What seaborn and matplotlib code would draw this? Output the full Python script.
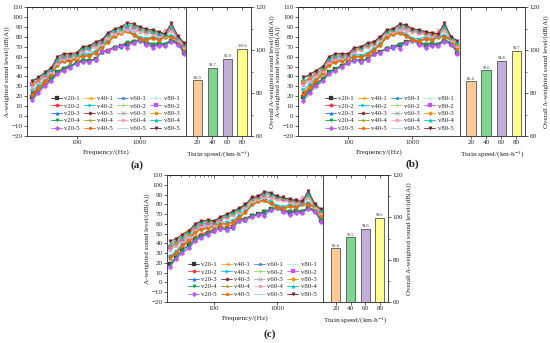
import numpy as np
import pandas as pd
import matplotlib
matplotlib.use("Agg")
import matplotlib.pyplot as plt
from matplotlib.ticker import ScalarFormatter, NullFormatter, FixedLocator
import seaborn as sns

# 1/3-octave band centre frequencies (Hz)
bands = [20, 25, 31.5, 40, 50, 63, 80, 100, 125, 160, 200, 250, 315, 400,
         500, 630, 800, 1000, 1250, 1600, 2000, 2500, 3150, 4000, 5000]

series_names = ['v20-1', 'v20-2', 'v20-3', 'v20-4', 'v20-5',
                'v40-1', 'v40-2', 'v40-3', 'v40-4', 'v40-5',
                'v60-1', 'v60-2', 'v60-3', 'v60-4', 'v60-5',
                'v80-1', 'v80-2', 'v80-3', 'v80-4', 'v80-5']

# ---- panel (a) ----
a_v20 = [[19, 26, 33, 37, 44, 48, 50, 54, 56, 56, 58, 65, 66, 69, 71, 73, 75, 77, 74, 72, 73, 72, 76, 74, 64],
         [20, 27, 33, 38, 45, 48, 51, 54, 57, 56, 58, 65, 67, 70, 71, 74, 75, 77, 74, 72, 73, 73, 77, 74, 65],
         [17, 25, 31, 36, 43, 47, 50, 53, 56, 55, 57, 65, 66, 69, 70, 72, 74, 76, 73, 71, 72, 72, 76, 73, 64],
         [18, 26, 34, 38, 45, 49, 51, 54, 57, 56, 58, 65, 66, 70, 71, 75, 76, 77, 75, 73, 74, 73, 77, 75, 65],
         [16, 23, 30, 35, 42, 46, 49, 53, 55, 55, 57, 66, 66, 69, 71, 69, 74, 77, 72, 69, 71, 71, 75, 72, 63]]
a_v40 = [[24, 29, 36, 43, 53, 57, 57, 59, 62, 62, 65, 71, 76, 82, 84, 86, 83, 79, 78, 80, 78, 80, 81, 78, 69],
         [26, 31, 37, 44, 54, 58, 58, 60, 63, 63, 66, 72, 77, 83, 85, 87, 84, 80, 79, 80, 79, 81, 82, 78, 70],
         [23, 28, 35, 42, 52, 56, 56, 58, 61, 61, 64, 70, 75, 81, 84, 86, 82, 78, 77, 79, 77, 80, 80, 77, 68],
         [22, 27, 34, 41, 51, 55, 55, 57, 60, 60, 63, 69, 74, 80, 83, 85, 81, 77, 76, 78, 76, 79, 79, 76, 67],
         [21, 28, 35, 42, 53, 56, 55, 58, 61, 61, 64, 70, 75, 81, 84, 86, 82, 78, 77, 79, 77, 80, 80, 77, 68]]
a_v60 = [[31, 35, 40, 46, 55, 59, 60, 61, 67, 69, 72, 74, 80, 84, 86, 88, 88, 86, 85, 84, 82, 81, 88, 78, 71],
         [30, 34, 40, 45, 54, 58, 59, 60, 66, 68, 71, 73, 79, 83, 85, 87, 87, 85, 84, 83, 81, 80, 87, 77, 70],
         [32, 36, 41, 46, 55, 59, 60, 61, 67, 68, 71, 74, 80, 84, 86, 88, 87, 86, 84, 83, 82, 81, 88, 78, 71],
         [29, 34, 39, 45, 54, 58, 59, 60, 66, 67, 70, 73, 79, 83, 85, 87, 86, 85, 84, 83, 81, 87, 86, 77, 70],
         [31, 35, 40, 46, 55, 59, 60, 61, 67, 69, 72, 74, 80, 84, 86, 88, 88, 86, 85, 84, 82, 81, 88, 78, 71]]
a_v80 = [[34, 38, 43, 48, 58, 62, 62, 63, 69, 71, 74, 76, 83, 87, 89, 92, 91, 89, 87, 86, 84, 82, 92, 80, 73],
         [32, 36, 41, 47, 56, 60, 61, 62, 68, 69, 73, 75, 82, 86, 88, 90, 90, 88, 86, 85, 83, 82, 89, 79, 72],
         [33, 37, 42, 48, 57, 61, 61, 62, 68, 70, 73, 76, 82, 86, 88, 91, 91, 88, 86, 85, 84, 82, 90, 79, 72],
         [36, 39, 43, 48, 58, 62, 62, 63, 69, 70, 74, 76, 83, 87, 89, 92, 92, 89, 87, 86, 84, 83, 91, 80, 73],
         [35, 39, 44, 49, 60, 63, 63, 64, 70, 71, 75, 77, 84, 88, 90, 94, 93, 90, 88, 87, 85, 83, 94, 81, 74]]

# ---- panel (b) ----
b_v20 = [[19, 26, 33, 37, 44, 48, 51, 54, 57, 56, 58, 63, 65, 68, 70, 72, 75, 77, 74, 72, 73, 72, 76, 73, 64],
         [20, 27, 33, 38, 45, 48, 51, 55, 57, 56, 58, 64, 65, 69, 70, 73, 75, 77, 74, 72, 73, 73, 77, 74, 65],
         [17, 25, 31, 36, 43, 47, 50, 54, 56, 55, 57, 63, 64, 68, 69, 71, 74, 76, 73, 71, 72, 72, 76, 73, 64],
         [18, 26, 33, 37, 44, 48, 51, 55, 57, 56, 58, 63, 65, 69, 70, 73, 75, 77, 75, 73, 74, 73, 77, 74, 65],
         [15, 23, 30, 35, 42, 46, 50, 54, 57, 55, 57, 63, 64, 68, 70, 68, 74, 77, 72, 69, 71, 71, 75, 72, 63]]
b_v40 = [[25, 31, 38, 44, 53, 56, 57, 58, 61, 61, 63, 68, 73, 81, 84, 85, 82, 78, 77, 79, 78, 80, 81, 78, 70],
         [27, 32, 39, 45, 54, 57, 58, 59, 62, 62, 64, 69, 74, 82, 85, 86, 83, 79, 78, 80, 79, 81, 82, 78, 71],
         [23, 29, 36, 43, 52, 55, 56, 58, 60, 60, 62, 67, 72, 80, 83, 84, 81, 77, 76, 78, 77, 80, 80, 77, 69],
         [22, 28, 35, 42, 51, 54, 55, 57, 59, 59, 61, 66, 71, 79, 82, 83, 80, 76, 75, 77, 76, 79, 79, 76, 68],
         [22, 29, 36, 43, 52, 55, 56, 58, 60, 60, 62, 67, 72, 80, 83, 84, 81, 77, 76, 78, 77, 80, 80, 77, 69]]
b_v60 = [[33, 37, 42, 47, 56, 59, 60, 60, 66, 68, 71, 73, 78, 84, 86, 88, 88, 86, 85, 83, 82, 81, 88, 78, 72],
         [32, 36, 41, 46, 55, 58, 59, 60, 65, 67, 70, 72, 77, 83, 85, 87, 87, 85, 84, 82, 81, 80, 87, 77, 71],
         [34, 38, 42, 47, 56, 59, 60, 61, 66, 68, 71, 73, 78, 84, 86, 88, 87, 85, 84, 83, 82, 81, 88, 78, 72],
         [31, 35, 40, 46, 55, 58, 59, 60, 65, 67, 70, 72, 77, 83, 85, 87, 86, 85, 84, 82, 81, 87, 86, 77, 71],
         [33, 37, 42, 47, 56, 59, 60, 60, 66, 68, 71, 73, 78, 84, 86, 88, 88, 86, 85, 83, 82, 81, 88, 78, 72]]
b_v80 = [[37, 41, 45, 49, 59, 62, 62, 62, 68, 70, 73, 75, 80, 86, 88, 92, 91, 88, 86, 85, 84, 82, 92, 80, 74],
         [34, 38, 43, 48, 57, 60, 61, 61, 67, 69, 72, 74, 79, 85, 87, 90, 90, 87, 85, 84, 83, 81, 90, 79, 73],
         [35, 39, 44, 48, 58, 61, 61, 62, 68, 69, 72, 74, 79, 85, 87, 91, 90, 87, 86, 84, 83, 82, 90, 79, 73],
         [38, 42, 46, 50, 59, 62, 62, 63, 69, 70, 73, 75, 80, 86, 88, 92, 91, 88, 87, 85, 84, 83, 91, 80, 75],
         [39, 42, 46, 50, 60, 63, 63, 63, 69, 70, 74, 75, 80, 87, 88, 93, 92, 88, 87, 85, 84, 83, 94, 80, 76]]

# ---- panel (c) ----
c_v20 = [[19, 26, 34, 38, 45, 48, 51, 53, 56, 55, 57, 64, 64, 68, 70, 72, 75, 77, 74, 72, 73, 72, 76, 73, 64],
         [27, 31, 37, 41, 47, 50, 52, 55, 57, 57, 59, 65, 66, 69, 70, 73, 75, 77, 74, 72, 73, 73, 77, 74, 65],
         [17, 25, 31, 36, 43, 47, 50, 53, 55, 54, 56, 63, 64, 68, 69, 71, 74, 76, 73, 71, 72, 72, 76, 73, 63],
         [18, 27, 33, 38, 45, 48, 51, 53, 56, 55, 57, 64, 65, 69, 70, 73, 75, 77, 75, 73, 74, 73, 77, 74, 64],
         [16, 24, 30, 35, 42, 46, 49, 53, 55, 54, 57, 63, 64, 67, 69, 68, 74, 76, 72, 69, 71, 71, 75, 72, 62]]
c_v40 = [[38, 44, 50, 54, 58, 62, 64, 63, 66, 68, 71, 76, 79, 84, 85, 86, 83, 78, 77, 79, 78, 80, 81, 78, 70],
         [27, 32, 40, 46, 54, 57, 58, 59, 62, 62, 64, 69, 74, 82, 85, 86, 83, 79, 78, 80, 79, 81, 82, 78, 71],
         [25, 30, 38, 44, 52, 55, 56, 58, 60, 60, 62, 67, 72, 80, 83, 84, 81, 77, 76, 78, 77, 80, 80, 77, 69],
         [24, 29, 37, 43, 51, 54, 55, 57, 59, 59, 61, 66, 71, 79, 82, 83, 80, 76, 75, 77, 76, 79, 79, 76, 68],
         [25, 30, 38, 44, 52, 55, 56, 58, 60, 60, 62, 67, 72, 80, 83, 84, 81, 77, 76, 78, 77, 80, 80, 77, 69]]
c_v60 = [[35, 39, 44, 48, 56, 59, 60, 60, 65, 67, 70, 73, 78, 84, 86, 88, 88, 86, 85, 83, 82, 81, 88, 78, 72],
         [34, 38, 43, 47, 55, 58, 59, 59, 64, 66, 69, 72, 77, 83, 85, 87, 87, 85, 84, 82, 81, 80, 87, 77, 71],
         [36, 39, 44, 48, 56, 59, 60, 60, 65, 67, 70, 73, 78, 84, 86, 88, 87, 85, 84, 83, 82, 81, 88, 78, 72],
         [33, 37, 42, 47, 55, 58, 59, 59, 64, 66, 69, 72, 77, 83, 85, 87, 86, 85, 84, 82, 81, 87, 86, 77, 71],
         [35, 39, 44, 48, 56, 59, 60, 60, 65, 67, 70, 73, 78, 84, 86, 88, 88, 86, 85, 83, 82, 81, 88, 78, 72]]
c_v80 = [[40, 43, 48, 52, 59, 62, 63, 62, 66, 69, 72, 75, 80, 86, 88, 92, 91, 88, 86, 85, 84, 82, 92, 80, 74],
         [36, 40, 45, 50, 57, 60, 61, 61, 65, 68, 71, 74, 79, 85, 87, 90, 90, 87, 85, 84, 83, 81, 90, 79, 73],
         [37, 41, 46, 50, 58, 61, 62, 61, 66, 68, 71, 74, 79, 85, 87, 91, 90, 87, 86, 84, 83, 82, 90, 79, 73],
         [39, 43, 47, 52, 59, 62, 63, 62, 67, 69, 72, 75, 80, 86, 88, 92, 91, 88, 87, 85, 84, 83, 91, 80, 74],
         [42, 45, 49, 53, 60, 63, 64, 63, 67, 70, 73, 76, 80, 87, 88, 93, 92, 88, 87, 85, 84, 83, 94, 80, 75]]

# overall levels (bar charts)
speed_labels = ['20', '40', '60', '80']
a_overall = [85.9, 91.7, 95.9, 100.6]
b_overall = [85.4, 90.6, 94.8, 99.7]
c_overall = [85.4, 90.5, 94.6, 99.6]

# styles, in the same order as series_names
line_colors = ['#333333', '#ff3333', '#1f6fff', '#00a651', '#c455f5',
               '#ffa31a', '#00c3e3', '#8b2a2a', '#9c9c1c', '#ff6600',
               '#3a8ed6', '#93dd5e', '#a8a8a8', '#ffa0b0', '#9fd2f2',
               '#a6f0dc', '#c455f5', '#e69500', '#00c2c2', '#7a1c1c']
line_markers = ['s', 'o', '^', 'v', 'D',
                '<', '>', 'h', '*', 'p',
                '.', '+', 'x', (6, 2, 0), '_',
                '|', 's', 'o', '^', 'v']
bar_colors = ['#ffc996', '#7fd48f', '#c2aed8', '#ffff8f']

sns.set_style('ticks')
plt.rcParams['font.family'] = ['Liberation Serif', 'DejaVu Serif']
plt.rcParams['mathtext.fontset'] = 'stix'
plt.rcParams['font.size'] = 5
plt.rcParams['axes.linewidth'] = 0.6
for k in ['xtick', 'ytick']:
    plt.rcParams[k + '.major.size'] = 2.0
    plt.rcParams[k + '.minor.size'] = 1.1
    plt.rcParams[k + '.major.width'] = 0.5
    plt.rcParams[k + '.minor.width'] = 0.4
    plt.rcParams[k + '.major.pad'] = 1.2
    plt.rcParams[k + '.labelsize'] = 5

W, H = 550, 343
fig = plt.figure(figsize=(5.5, 3.43), dpi=100)


def px_axes(x0, x1, y0, y1):
    return fig.add_axes([x0 / W, 1 - y1 / H, (x1 - x0) / W, (y1 - y0) / H])


def draw_panel(box, xlim_line, xlim_bar, groups, overall, letter, letter_xy):
    x0, xm, x1, y0, y1 = box
    ax = px_axes(x0, xm, y0, y1)
    bax = px_axes(xm, x1, y0, y1)

    all_series = [s for g in groups for s in g]
    for name, vals, col, mk in zip(series_names, all_series, line_colors, line_markers):
        unfilled = mk in ['+', 'x', '|', '_', '.'] or isinstance(mk, tuple)
        sns.lineplot(x=bands, y=vals, ax=ax, color=col, marker=mk,
                     markersize=2.5 if mk != '.' else 3.4, linewidth=0.6,
                     markeredgewidth=0.6 if unfilled else 0.2,
                     markeredgecolor=col, label=name)

    ax.set_xscale('log')
    ax.set_xlim(*xlim_line)
    ax.set_ylim(-20, 110)
    ax.set_yticks(range(-20, 111, 10))
    ax.xaxis.set_major_locator(FixedLocator([100, 1000]))
    ax.xaxis.set_major_formatter(ScalarFormatter())
    ax.xaxis.set_minor_formatter(NullFormatter())
    ax.tick_params(axis='both', which='both', direction='out')
    ax.tick_params(axis='x', which='minor', bottom=False)
    top = ax.secondary_xaxis('top')
    top.xaxis.set_major_locator(FixedLocator([100, 1000]))
    top.tick_params(axis='x', which='both', direction='in', labeltop=False)
    top.xaxis.set_minor_formatter(NullFormatter())
    ax.set_xlabel('Frequency/(Hz)', labelpad=3, fontsize=5.3)
    ax.set_ylabel('A-weighted sound level/(dB(A))', labelpad=1)
    ax.legend(ncol=4, loc='lower right', bbox_to_anchor=(0.99, 0.0),
              frameon=False, fontsize=4.9, handlelength=1.6,
              columnspacing=0.6, labelspacing=0.25, handletextpad=0.35,
              borderpad=0.25, markerscale=1.0)

    df = pd.DataFrame({'speed': speed_labels, 'level': overall})
    sns.barplot(data=df, x='speed', y='level', hue='speed', palette=bar_colors,
                legend=False, ax=bax, width=0.62, edgecolor='#555555',
                linewidth=0.6, saturation=1)
    for cont in bax.containers:
        bax.bar_label(cont, fmt='%.1f', fontsize=3.2, padding=0.5)
    bax.set_xlim(*xlim_bar)
    bax.set_ylim(60, 120)
    bax.set_yticks([60, 80, 100, 120])
    bax.set_yticks([70, 90, 110], minor=True)
    bax.yaxis.tick_right()
    bax.yaxis.set_label_position('right')
    bax.tick_params(axis='y', which='both', direction='out', right=True, left=False)
    bax.tick_params(axis='x', direction='out')
    btop = bax.secondary_xaxis('top')
    btop.set_xticks(range(4))
    btop.tick_params(axis='x', direction='in', labeltop=False)
    bax.set_xlabel('Train speed/(km$\\cdot$h$^{-1}$)', labelpad=3, fontsize=5.3)
    bax.set_ylabel('Overall A-weighted sound level/(dB(A))', labelpad=2)

    fig.text(letter_xy[0] / W, 1 - letter_xy[1] / H, letter, ha='center',
             va='center', fontsize=8, fontweight='bold')


draw_panel((27, 186, 251, 7, 136), (16.5, 5370), (-0.77, 3.6),
           [a_v20, a_v40, a_v60, a_v80], a_overall, '(a)', (137, 165))
draw_panel((298, 460, 525, 7, 136), (16.5, 5500), (-0.73, 3.57),
           [b_v20, b_v40, b_v60, b_v80], b_overall, '(b)', (412, 164))
draw_panel((167, 323, 388, 175, 302), (17.9, 5370), (-0.87, 3.55),
           [c_v20, c_v40, c_v60, c_v80], c_overall, '(c)', (270, 334))

fig.savefig('out.png', dpi=100)
